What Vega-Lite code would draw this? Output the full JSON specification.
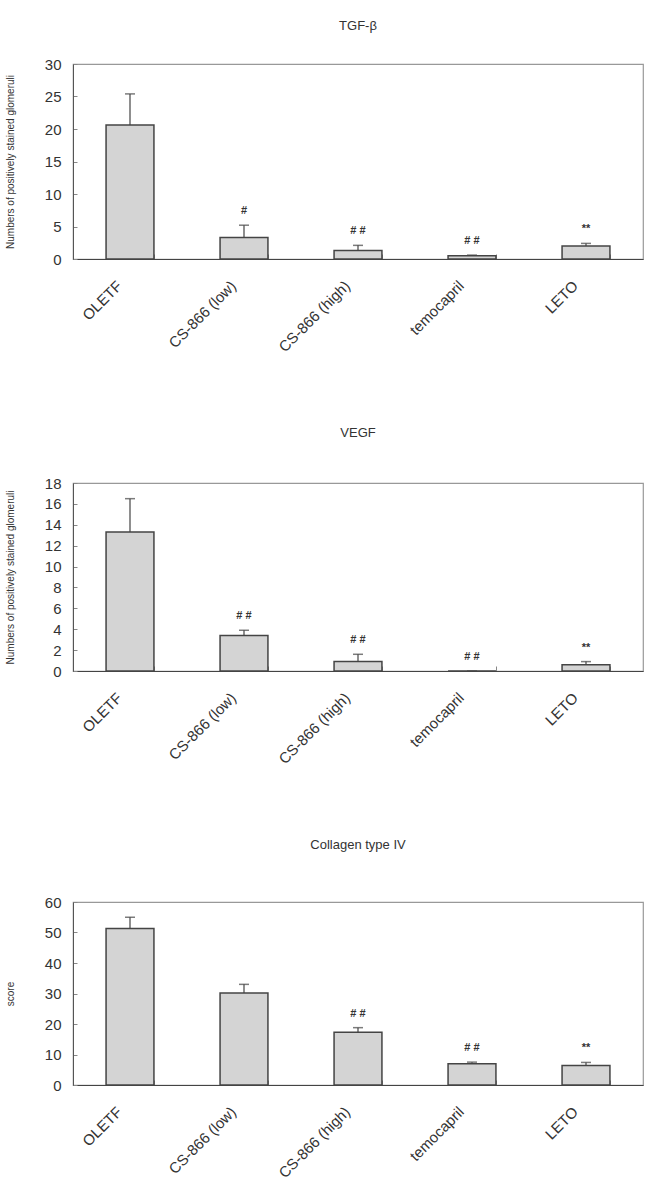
{
  "$schema": "https://vega.github.io/schema/vega-lite/v6.json",
  "padding": {"left": 4, "top": 19, "right": 0, "bottom": 0},
  "background": "white",
  "datasets": {
    "tgf": [
      {"group": "OLETF", "mean": 20.6, "upper": 25.4, "sig": ""},
      {"group": "CS-866 (low)", "mean": 3.3, "upper": 5.2, "sig": "#"},
      {"group": "CS-866 (high)", "mean": 1.3, "upper": 2.1, "sig": "# #"},
      {"group": "temocapril", "mean": 0.5, "upper": 0.6, "sig": "# #"},
      {"group": "LETO", "mean": 2.0, "upper": 2.4, "sig": "**"}
    ],
    "vegf": [
      {"group": "OLETF", "mean": 13.3, "upper": 16.5, "sig": ""},
      {"group": "CS-866 (low)", "mean": 3.4, "upper": 3.9, "sig": "# #"},
      {"group": "CS-866 (high)", "mean": 0.9, "upper": 1.6, "sig": "# #"},
      {"group": "temocapril", "mean": 0, "upper": 0, "sig": "# #"},
      {"group": "LETO", "mean": 0.6, "upper": 0.9, "sig": "**"}
    ],
    "col": [
      {"group": "OLETF", "mean": 51.3, "upper": 55.0, "sig": ""},
      {"group": "CS-866 (low)", "mean": 30.2, "upper": 33.0, "sig": ""},
      {"group": "CS-866 (high)", "mean": 17.3, "upper": 18.8, "sig": "# #"},
      {"group": "temocapril", "mean": 7.0, "upper": 7.5, "sig": "# #"},
      {"group": "LETO", "mean": 6.4, "upper": 7.4, "sig": "**"}
    ]
  },
  "vconcat": [
    {
      "data": {"name": "tgf"},
      "width": 570,
      "height": 195,
      "title": {"text": "TGF-β", "offset": 24},
      "encoding": {
        "x": {"field": "group", "type": "nominal", "sort": null, "title": null,
              "scale": {"paddingInner": 0.58, "paddingOuter": 0.29}}
      },
      "layer": [
        {"mark": {"type": "bar", "fill": "#d4d4d4", "stroke": "#444", "strokeWidth": 1.5},
         "encoding": {"y": {"field": "mean", "type": "quantitative", "title": "Numbers of positively stained glomeruli",
           "scale": {"domain": [0, 30]}, "axis": {"values": [0, 5, 10, 15, 20, 25, 30]}}}},
        {"mark": {"type": "rule", "stroke": "#444", "strokeWidth": 1.2},
         "encoding": {"y": {"field": "mean", "type": "quantitative", "title": "Numbers of positively stained glomeruli",
           "scale": {"domain": [0, 30]}, "axis": {"values": [0, 5, 10, 15, 20, 25, 30]}}, "y2": {"field": "upper"}}},
        {"mark": {"type": "tick", "color": "#444", "size": 10, "thickness": 1.5},
         "encoding": {"y": {"field": "upper", "type": "quantitative", "title": "Numbers of positively stained glomeruli",
           "scale": {"domain": [0, 30]}, "axis": {"values": [0, 5, 10, 15, 20, 25, 30]}}}},
        {"mark": {"type": "text", "dy": -14, "fontSize": 11, "fontWeight": "bold", "color": "#333"},
         "encoding": {"y": {"field": "upper", "type": "quantitative", "title": "Numbers of positively stained glomeruli",
           "scale": {"domain": [0, 30]}, "axis": {"values": [0, 5, 10, 15, 20, 25, 30]}}, "text": {"field": "sig"}}}
      ]
    },
    {
      "data": {"name": "vegf"},
      "width": 570,
      "height": 188,
      "title": {"text": "VEGF", "offset": 36},
      "encoding": {
        "x": {"field": "group", "type": "nominal", "sort": null, "title": null,
              "scale": {"paddingInner": 0.58, "paddingOuter": 0.29}}
      },
      "layer": [
        {"mark": {"type": "bar", "fill": "#d4d4d4", "stroke": "#444", "strokeWidth": 1.5},
         "encoding": {"y": {"field": "mean", "type": "quantitative", "title": "Numbers of positively stained glomeruli",
           "scale": {"domain": [0, 18]}, "axis": {"values": [0, 2, 4, 6, 8, 10, 12, 14, 16, 18]}}}},
        {"mark": {"type": "rule", "stroke": "#444", "strokeWidth": 1.2},
         "encoding": {"y": {"field": "mean", "type": "quantitative", "title": "Numbers of positively stained glomeruli",
           "scale": {"domain": [0, 18]}, "axis": {"values": [0, 2, 4, 6, 8, 10, 12, 14, 16, 18]}}, "y2": {"field": "upper"}}},
        {"mark": {"type": "tick", "color": "#444", "size": 10, "thickness": 1.5},
         "encoding": {"y": {"field": "upper", "type": "quantitative", "title": "Numbers of positively stained glomeruli",
           "scale": {"domain": [0, 18]}, "axis": {"values": [0, 2, 4, 6, 8, 10, 12, 14, 16, 18]}}}},
        {"mark": {"type": "text", "dy": -14, "fontSize": 11, "fontWeight": "bold", "color": "#333"},
         "encoding": {"y": {"field": "upper", "type": "quantitative", "title": "Numbers of positively stained glomeruli",
           "scale": {"domain": [0, 18]}, "axis": {"values": [0, 2, 4, 6, 8, 10, 12, 14, 16, 18]}}, "text": {"field": "sig"}}}
      ]
    },
    {
      "data": {"name": "col"},
      "width": 570,
      "height": 183,
      "title": {"text": "Collagen type IV", "offset": 43},
      "encoding": {
        "x": {"field": "group", "type": "nominal", "sort": null, "title": null,
              "scale": {"paddingInner": 0.58, "paddingOuter": 0.29}}
      },
      "layer": [
        {"mark": {"type": "bar", "fill": "#d4d4d4", "stroke": "#444", "strokeWidth": 1.5},
         "encoding": {"y": {"field": "mean", "type": "quantitative", "title": "score",
           "scale": {"domain": [0, 60]}, "axis": {"values": [0, 10, 20, 30, 40, 50, 60]}}}},
        {"mark": {"type": "rule", "stroke": "#444", "strokeWidth": 1.2},
         "encoding": {"y": {"field": "mean", "type": "quantitative", "title": "score",
           "scale": {"domain": [0, 60]}, "axis": {"values": [0, 10, 20, 30, 40, 50, 60]}}, "y2": {"field": "upper"}}},
        {"mark": {"type": "tick", "color": "#444", "size": 10, "thickness": 1.5},
         "encoding": {"y": {"field": "upper", "type": "quantitative", "title": "score",
           "scale": {"domain": [0, 60]}, "axis": {"values": [0, 10, 20, 30, 40, 50, 60]}}}},
        {"mark": {"type": "text", "dy": -14, "fontSize": 11, "fontWeight": "bold", "color": "#333"},
         "encoding": {"y": {"field": "upper", "type": "quantitative", "title": "score",
           "scale": {"domain": [0, 60]}, "axis": {"values": [0, 10, 20, 30, 40, 50, 60]}}, "text": {"field": "sig"}}}
      ]
    }
  ],
  "spacing": 70,
  "config": {
    "font": "Liberation Sans",
    "view": {"stroke": "#999", "strokeWidth": 1.2},
    "title": {"fontSize": 13, "fontWeight": "normal", "color": "#333", "anchor": "middle"},
    "axis": {"grid": false, "labelColor": "#333", "titleColor": "#333", "domainColor": "#555", "tickColor": "#888"},
    "axisY": {"labelFontSize": 15, "tickSize": -4, "labelPadding": 16, "labelOverlap": false, "titleFontSize": 10, "titleFontWeight": "normal", "titlePadding": 29},
    "axisX": {"labelFontSize": 15, "labelAngle": -45, "tickBand": "extent", "tickSize": -5, "labelPadding": 24, "labelOffset": -16, "domainColor": "#444", "labelColor": "#333"}
  }
}
